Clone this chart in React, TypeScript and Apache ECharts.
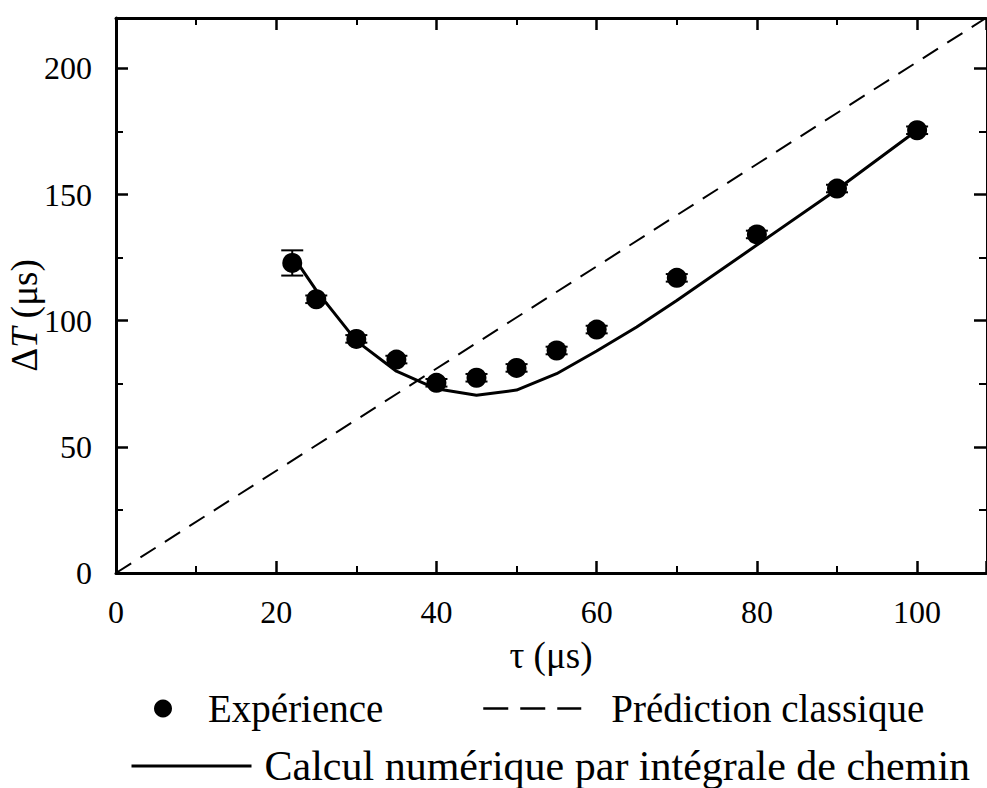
import React, { useEffect, useRef } from "react";
import * as echarts from "echarts";

// Experimental points
const expTau = [22, 25, 30, 35, 40, 45, 50, 55, 60, 70, 80, 90, 100];
const expDT = [122.9, 108.5, 92.8, 84.6, 75.4, 77.4, 81.3, 88.2, 96.5, 117, 134.2, 152.4, 175.5];
const expErr = [5, 1.5, 1.5, 1.5, 1.5, 1.5, 1.5, 1.5, 1.5, 1.5, 1.5, 1.5, 1.5];

// Numerical path-integral calculation
const calcTau = [22, 25, 27, 30, 35, 40, 45, 50, 55, 60, 65, 70, 80, 90, 100];
const calcDT = [126, 112, 104, 92, 80, 73, 70.5, 72.5, 79, 88, 97.5, 108, 130, 152, 175.5];

// Classical prediction
const classTau = [0, 108.6];
const classDT = [0, 220];

const xTicks = [0, 20, 40, 60, 80, 100];
const yTicks = [0, 50, 100, 150, 200];

const FONT = "Liberation Serif";

export default function App() {
  const ref = useRef<HTMLDivElement>(null);
  useEffect(() => {
    if (!ref.current) return;
    const chart = echarts.init(ref.current, undefined, { renderer: "svg" });
    const axisLine = { show: true, onZero: false, lineStyle: { color: "#000", width: 3 } };
    const axisTick = { show: true, inside: true, length: 12, lineStyle: { color: "#000", width: 2.5 } };
    const minorTick = { show: true, splitNumber: 2, length: 7, lineStyle: { color: "#000", width: 2 } };
    const xMax = classTau[1];
    const yMax = classDT[1];
    const legendText = { color: "#000", fontFamily: FONT, fontSize: 39 };
    const option: any = {
      animation: false,
      backgroundColor: "#fff",
      grid: { left: 116, top: 18, right: 1, bottom: 215, containLabel: false, outerBoundsMode: "none" },
      xAxis: [
        {
          type: "value",
          min: 0,
          max: xMax,
          interval: 20,
          axisLine,
          axisTick,
          minorTick,
          splitLine: { show: false },
          axisLabel: {
            color: "#000",
            fontFamily: FONT,
            fontSize: 32,
            margin: 23,
            showMaxLabel: false,
            formatter: (v: number) => (xTicks.includes(v) ? String(v) : ""),
          },
          name: "τ (μs)",
          nameLocation: "middle",
          nameGap: 64,
          nameTextStyle: { color: "#000", fontFamily: FONT, fontSize: 37 },
        },
        {
          type: "value",
          position: "top",
          min: 0,
          max: xMax,
          interval: 20,
          axisLine,
          axisTick,
          minorTick,
          splitLine: { show: false },
          axisLabel: { show: false },
        },
      ],
      yAxis: [
        {
          type: "value",
          min: 0,
          max: yMax,
          interval: 50,
          axisLine,
          axisTick,
          minorTick,
          splitLine: { show: false },
          axisLabel: {
            color: "#000",
            fontFamily: FONT,
            fontSize: 32,
            margin: 24,
            showMaxLabel: false,
            formatter: (v: number) => (yTicks.includes(v) ? String(v) : ""),
          },
          name: "{d|Δ}{t|T}{d| (μs)}",
          nameLocation: "middle",
          nameGap: 73,
          nameMoveOverlap: false,
          nameRotate: 90,
          nameTextStyle: {
            color: "#000",
            padding: [0, 40, 0, 0],
            rich: {
              d: { fontFamily: FONT, fontSize: 37, color: "#000" },
              t: { fontFamily: FONT, fontSize: 37, fontStyle: "italic", color: "#000" },
            },
          },
        },
        {
          type: "value",
          position: "right",
          min: 0,
          max: yMax,
          interval: 50,
          axisLine: { show: true, onZero: false, lineStyle: { color: "#000", width: 1 } },
          axisTick,
          minorTick,
          splitLine: { show: false },
          axisLabel: { show: false },
        },
      ],
      legend: [
        {
          data: ["Expérience"],
          left: 154,
          top: 689,
          padding: 0,
          itemWidth: 18,
          itemHeight: 18,
          textStyle: { ...legendText, padding: [0, 0, 0, 31] },
        },
        {
          data: ["Prédiction classique"],
          left: 482,
          top: 689,
          padding: 0,
          itemWidth: 98,
          itemHeight: 14,
          itemStyle: { opacity: 0, borderWidth: 0 },
          lineStyle: { type: [25, 12], width: 2.5, color: "#000" },
          textStyle: { ...legendText, padding: [0, 0, 0, 25] },
        },
        {
          data: ["Calcul numérique par intégrale de chemin"],
          left: 130,
          top: 745,
          padding: 0,
          itemWidth: 120,
          itemHeight: 14,
          itemStyle: { opacity: 0, borderWidth: 0 },
          lineStyle: { width: 3, color: "#000" },
          textStyle: { ...legendText, fontSize: 42, padding: [0, 0, 0, 8] },
        },
      ],
      series: [
        {
          name: "Prédiction classique",
          type: "line",
          data: classTau.map((t, i) => [t, classDT[i]]),
          symbol: "none",
          lineStyle: { color: "#000", width: 2, type: [18, 11] },
          itemStyle: { color: "#000" },
          z: 2,
        },
        {
          name: "Calcul numérique par intégrale de chemin",
          type: "line",
          data: calcTau.map((t, i) => [t, calcDT[i]]),
          symbol: "none",
          lineStyle: { color: "#000", width: 3 },
          itemStyle: { color: "#000" },
          z: 3,
        },
        {
          name: "errors",
          type: "custom",
          data: expTau.map((t, i) => [t, expDT[i], expErr[i]]),
          renderItem: (params: any, api: any) => {
            const x = api.value(0);
            const y = api.value(1);
            const e = api.value(2);
            const top = api.coord([x, y + e]);
            const bot = api.coord([x, y - e]);
            const hw = 11;
            const style = { stroke: "#000", lineWidth: 2 };
            return {
              type: "group",
              children: [
                { type: "line", shape: { x1: top[0], y1: top[1], x2: bot[0], y2: bot[1] }, style },
                { type: "line", shape: { x1: top[0] - hw, y1: top[1], x2: top[0] + hw, y2: top[1] }, style },
                { type: "line", shape: { x1: bot[0] - hw, y1: bot[1], x2: bot[0] + hw, y2: bot[1] }, style },
              ],
            };
          },
          z: 4,
        },
        {
          name: "Expérience",
          type: "scatter",
          data: expTau.map((t, i) => [t, expDT[i]]),
          symbol: "circle",
          symbolSize: 20,
          itemStyle: { color: "#000", opacity: 1 },
          z: 5,
        },
      ],
    };
    chart.setOption(option);
    return () => chart.dispose();
  }, []);
  return <div ref={ref} style={{ width: 987, height: 788, position: "absolute", left: 0, top: 0 }} />;
}
